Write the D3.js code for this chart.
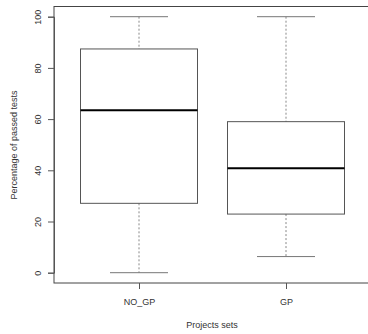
<!DOCTYPE html>
<html>
<head>
<meta charset="utf-8">
<script src="https://cdn.jsdelivr.net/npm/d3@7"></script>
<style>
  body { margin: 0; background: #fff; }
  text { font-family: "Liberation Sans", Arial, sans-serif; fill: #333; }
</style>
</head>
<body>
<svg id="chart" width="368" height="334"></svg>
<script>
// Box statistics
const groups = ['NO_GP', 'GP'];
const whiskerLow = [0, 6.3];
const quart1 = [27.1, 22.9];
const medians = [63.5, 40.8];
const quart3 = [87.4, 59];
const whiskerHigh = [100, 100];
const yTicks = [0, 20, 40, 60, 80, 100];

const svg = d3.select('#chart');
const frame = { left: 54, right: 368, top: 6.5, bottom: 283 };

const x = d3.scalePoint()
  .domain(groups)
  .range([139, 286]);

const y = d3.scaleLinear()
  .domain([0, 100])
  .range([272.7, 16.7]);

const boxW = 117;
const capW = 58;
const fontPx = '9px';

// plot frame
svg.append('rect')
  .attr('x', frame.left)
  .attr('y', frame.top)
  .attr('width', frame.right - frame.left + 2)
  .attr('height', frame.bottom - frame.top)
  .attr('fill', 'none')
  .attr('stroke', '#444')
  .attr('stroke-width', 1);

// y axis
const yAxis = svg.append('g')
  .attr('transform', `translate(${frame.left},0)`)
  .call(d3.axisLeft(y).tickValues(yTicks).tickSize(6).tickPadding(10));
yAxis.select('.domain').attr('stroke', '#555');
yAxis.selectAll('.tick line').attr('stroke', '#555');
yAxis.selectAll('.tick text')
  .attr('transform', 'rotate(-90)')
  .attr('x', 0)
  .attr('y', -16)
  .attr('dy', '0.32em')
  .style('text-anchor', 'middle')
  .style('font-size', fontPx);

// x axis
const xAxis = svg.append('g')
  .attr('transform', `translate(0,${frame.bottom})`)
  .call(d3.axisBottom(x).tickSize(6).tickPadding(10));
xAxis.select('.domain').remove();
xAxis.selectAll('.tick line').attr('stroke', '#555');
xAxis.selectAll('.tick text').style('font-size', fontPx);

// axis titles
svg.append('text')
  .attr('transform', 'translate(14,145) rotate(-90)')
  .attr('text-anchor', 'middle')
  .attr('dy', '0.35em')
  .style('font-size', fontPx)
  .text('Percentage of passed tests');

svg.append('text')
  .attr('x', 212)
  .attr('y', 325)
  .attr('text-anchor', 'middle')
  .attr('dy', '0.35em')
  .style('font-size', fontPx)
  .text('Projects sets');

// boxes
const boxes = svg.selectAll('.box')
  .data(groups)
  .enter()
  .append('g')
  .attr('class', 'box');

// whiskers (dashed)
boxes.append('line')
  .attr('x1', d => x(d)).attr('x2', d => x(d))
  .attr('y1', (d, i) => y(whiskerHigh[i]))
  .attr('y2', (d, i) => y(quart3[i]))
  .attr('stroke', '#888').attr('stroke-dasharray', '2,2');
boxes.append('line')
  .attr('x1', d => x(d)).attr('x2', d => x(d))
  .attr('y1', (d, i) => y(quart1[i]))
  .attr('y2', (d, i) => y(whiskerLow[i]))
  .attr('stroke', '#888').attr('stroke-dasharray', '2,2');

// caps
boxes.append('line')
  .attr('x1', d => x(d) - capW / 2).attr('x2', d => x(d) + capW / 2)
  .attr('y1', (d, i) => y(whiskerHigh[i]))
  .attr('y2', (d, i) => y(whiskerHigh[i]))
  .attr('stroke', '#777');
boxes.append('line')
  .attr('x1', d => x(d) - capW / 2).attr('x2', d => x(d) + capW / 2)
  .attr('y1', (d, i) => y(whiskerLow[i]))
  .attr('y2', (d, i) => y(whiskerLow[i]))
  .attr('stroke', '#777');

// box body
boxes.append('rect')
  .attr('x', d => x(d) - boxW / 2)
  .attr('y', (d, i) => y(quart3[i]))
  .attr('width', boxW)
  .attr('height', (d, i) => y(quart1[i]) - y(quart3[i]))
  .attr('fill', 'none')
  .attr('stroke', '#555');

// median
boxes.append('line')
  .attr('x1', d => x(d) - boxW / 2).attr('x2', d => x(d) + boxW / 2)
  .attr('y1', (d, i) => y(medians[i]))
  .attr('y2', (d, i) => y(medians[i]))
  .attr('stroke', '#000')
  .attr('stroke-width', 2);
</script>
</body>
</html>
